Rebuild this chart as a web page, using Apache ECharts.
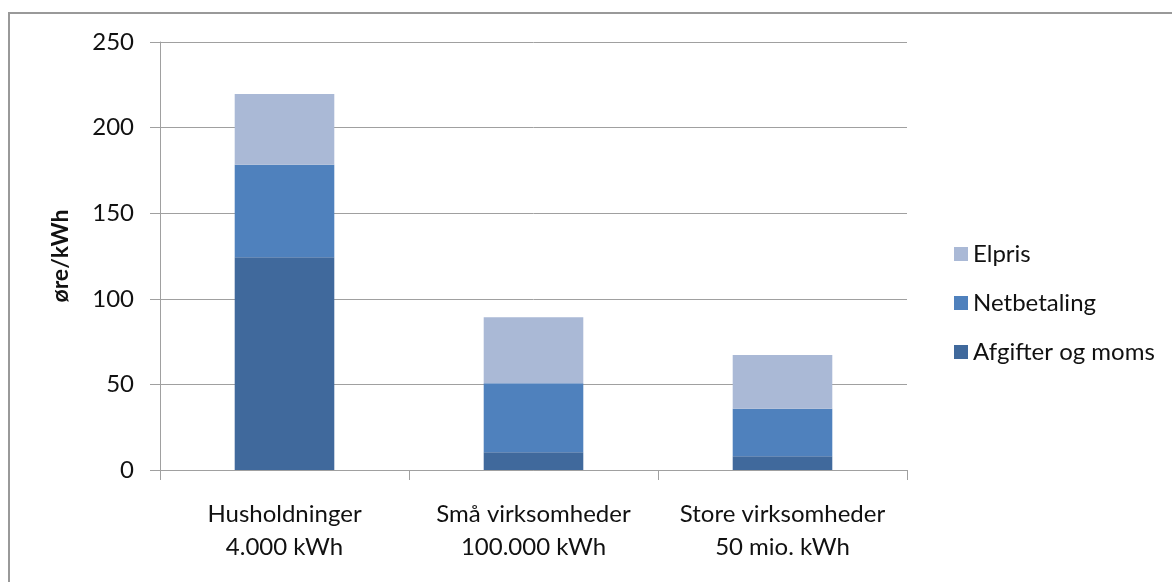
<!DOCTYPE html>
<html>
<head>
<meta charset="utf-8">
<script src="https://cdn.jsdelivr.net/npm/echarts@6/dist/echarts.min.js"></script>
<style>
html,body{margin:0;padding:0;background:#fff;}
#chart{width:1172px;height:582px;}
</style>
</head>
<body>
<div id="chart"></div>
<script>
const categories = ['Husholdninger\n4.000 kWh', 'Små virksomheder\n100.000 kWh', 'Store virksomheder\n50 mio. kWh'];
const afgifter = [124.3, 10.3, 8.0];
const netbetaling = [54.0, 40.4, 27.8];
const elpris = [41.3, 38.5, 31.4];
const seriesNames = ['Afgifter og moms', 'Netbetaling', 'Elpris'];
const yTicks = { min: 0, max: 250, interval: 50 };

const FONT = 'Lato';
const FS = 24;
const chart = echarts.init(document.getElementById('chart'), null, {renderer: 'canvas'});
const colors = ['#40699C', '#4F81BD', '#AAB9D6'];
const dataSets = [afgifter, netbetaling, elpris];

chart.setOption({
  animation: false,
  textStyle: {fontFamily: FONT},
  graphic: [{
    type: 'polyline',
    shape: {points: [[9, 582], [9, 13], [1172, 13]]},
    style: {stroke: '#999', lineWidth: 2, fill: null},
    silent: true
  }],
  grid: {left: 160, right: 265, top: 42, bottom: 112},
  legend: {
    orient: 'vertical',
    left: 949,
    top: 237,
    itemWidth: 14,
    itemHeight: 14,
    itemGap: 25,
    icon: 'rect',
    data: ['Elpris', 'Netbetaling', 'Afgifter og moms'],
    textStyle: {fontFamily: FONT, fontSize: FS, color: '#111', padding: [0, 0, 0, 0]}
  },
  xAxis: {
    type: 'category',
    data: categories,
    axisLine: {lineStyle: {color: '#a0a0a0', width: 1}},
    axisTick: {show: true, length: 10, interval: 0, lineStyle: {color: '#a0a0a0'}},
    axisLabel: {fontFamily: FONT, fontSize: FS, color: '#111', lineHeight: 33, margin: 28, interval: 0}
  },
  yAxis: {
    type: 'value',
    min: yTicks.min, max: yTicks.max, interval: yTicks.interval,
    name: 'øre/kWh',
    nameLocation: 'middle',
    nameRotate: 90,
    nameGap: 88,
    nameTextStyle: {fontFamily: FONT, fontSize: FS - 1, fontWeight: 'bold', color: '#111'},
    axisLine: {show: true, lineStyle: {color: '#a0a0a0', width: 1}},
    axisTick: {show: true, length: 10, lineStyle: {color: '#a0a0a0'}},
    axisLabel: {fontFamily: FONT, fontSize: FS, color: '#111', margin: 26},
    splitLine: {show: true, lineStyle: {color: '#a0a0a0', width: 1}}
  },
  series: seriesNames.map((n, i) => ({
    name: n,
    type: 'bar',
    stack: 'total',
    barWidth: '40%',
    data: dataSets[i],
    itemStyle: {color: colors[i]}
  }))
});
</script>
</body>
</html>
